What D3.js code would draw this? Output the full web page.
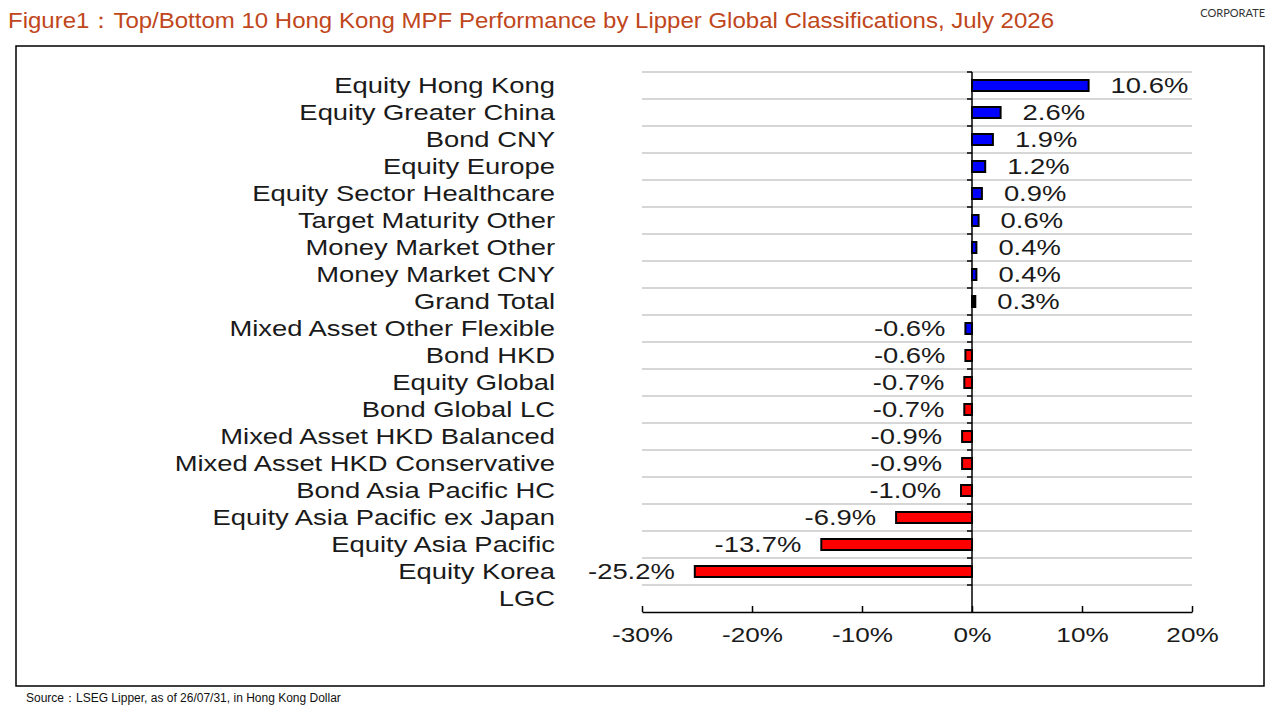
<!DOCTYPE html>
<html>
<head>
<meta charset="utf-8">
<script src="https://cdn.jsdelivr.net/npm/d3@7"></script>
<style>
  body { margin: 0; background: #fff; }
  svg { display: block; font-family: "Liberation Sans", Arial, sans-serif; }
</style>
</head>
<body>
<script>
// categories, top to bottom
var categories = [
  'Equity Hong Kong', 'Equity Greater China', 'Bond CNY', 'Equity Europe',
  'Equity Sector Healthcare', 'Target Maturity Other', 'Money Market Other',
  'Money Market CNY', 'Grand Total', 'Mixed Asset Other Flexible', 'Bond HKD',
  'Equity Global', 'Bond Global LC', 'Mixed Asset HKD Balanced',
  'Mixed Asset HKD Conservative', 'Bond Asia Pacific HC',
  'Equity Asia Pacific ex Japan', 'Equity Asia Pacific', 'Equity Korea', 'LGC'
]
// returns in %, null = no bar
var values = [10.6, 2.6, 1.9, 1.2, 0.9, 0.6, 0.4, 0.4, 0.3, -0.6, -0.6,
  -0.7, -0.7, -0.9, -0.9, -1.0, -6.9, -13.7, -25.2, null]
// which group each bar belongs to
var groups = ['top', 'top', 'top', 'top', 'top', 'top', 'top', 'top', 'total',
  'top', 'bottom', 'bottom', 'bottom', 'bottom', 'bottom', 'bottom', 'bottom',
  'bottom', 'bottom', null]
var xTicks = [-30, -20, -10, 0, 10, 20]

var colors = { top: '#0000ff', bottom: '#ff0000', total: '#000000' }
var stretch = 1.245 // the text in the picture is a bit wide

var svg = d3.select('body').append('svg')
  .attr('width', 1280)
  .attr('height', 720)

// title and header
svg.append('text')
  .attr('x', 8).attr('y', 28)
  .attr('font-size', 22)
  .attr('fill', '#c0461c')
  .attr('textLength', 1046)
  .attr('lengthAdjust', 'spacingAndGlyphs')
  .text('Figure1\uff1aTop/Bottom 10 Hong Kong MPF Performance by Lipper Global Classifications, July 2026')

svg.append('text')
  .attr('x', 1265).attr('y', 17)
  .attr('text-anchor', 'end')
  .attr('font-family', 'Lato, "Open Sans", sans-serif')
  .attr('font-size', 11)
  .attr('fill', '#333')
  .text('CORPORATE')

// chart frame
svg.append('rect')
  .attr('x', 16).attr('y', 46)
  .attr('width', 1248).attr('height', 640)
  .attr('fill', 'none')
  .attr('stroke', '#000')
  .attr('stroke-width', 1.5)

svg.append('text')
  .attr('x', 26).attr('y', 702)
  .attr('font-size', 12)
  .attr('fill', '#111')
  .text('Source\uff1aLSEG Lipper, as of 26/07/31, in Hong Kong Dollar')

var x = d3.scaleLinear().domain([-30, 20]).range([642, 1192])
var y = d3.scaleBand().domain(categories).range([72, 612]).padding(0)
var barH = 11

// place text with a horizontal stretch
function label (sel, px, py) {
  return sel.attr('transform', function (d, i) {
    return 'translate(' + px(d, i) + ',' + py(d, i) + ') scale(' + stretch + ',1)'
  })
}

// gridlines at the top of each band
svg.append('g').selectAll('line')
  .data(categories)
  .enter().append('line')
  .attr('x1', x(-30)).attr('x2', x(20))
  .attr('y1', function (d) { return y(d) })
  .attr('y2', function (d) { return y(d) })
  .attr('stroke', '#c8c8c8')
  .attr('stroke-width', 1.5)

// bars
var rows = categories.map(function (c, i) {
  return { cat: c, v: values[i], g: groups[i] }
}).filter(function (d) { return d.v !== null })

svg.append('g').selectAll('rect')
  .data(rows)
  .enter().append('rect')
  .attr('x', function (d) { return x(Math.min(0, d.v)) })
  .attr('width', function (d) { return Math.abs(x(d.v) - x(0)) })
  .attr('y', function (d) { return y(d.cat) + y.bandwidth() / 2 - barH / 2 })
  .attr('height', barH)
  .attr('fill', function (d) { return colors[d.g] })
  .attr('stroke', '#000')
  .attr('stroke-width', 2)

// value labels
label(svg.append('g').selectAll('text')
  .data(rows)
  .enter().append('text')
  .attr('font-size', 22)
  .attr('fill', '#1a1a1a')
  .attr('dy', '0.35em')
  .attr('text-anchor', function (d) { return d.v < 0 ? 'end' : 'start' })
  .text(function (d) { return d.v.toFixed(1) + '%' }),
function (d) { return d.v < 0 ? x(d.v) - 20 : x(d.v) + 22 },
function (d) { return y(d.cat) + y.bandwidth() / 2 })

// category labels
label(svg.append('g').selectAll('text')
  .data(categories)
  .enter().append('text')
  .attr('font-size', 22)
  .attr('fill', '#1a1a1a')
  .attr('dy', '0.35em')
  .attr('text-anchor', 'end')
  .text(function (d) { return d }),
function () { return 555 },
function (d) { return y(d) + y.bandwidth() / 2 })

// vertical zero axis with small ticks on the left
svg.append('line')
  .attr('x1', x(0)).attr('x2', x(0))
  .attr('y1', y.range()[0]).attr('y2', y.range()[1])
  .attr('stroke', '#000')
  .attr('stroke-width', 1.5)

svg.append('g').selectAll('line')
  .data(categories)
  .enter().append('line')
  .attr('x1', x(0) - 5).attr('x2', x(0))
  .attr('y1', function (d) { return y(d) })
  .attr('y2', function (d) { return y(d) })
  .attr('stroke', '#000')
  .attr('stroke-width', 1.5)

// x axis
var xAxis = svg.append('g')
  .attr('transform', 'translate(0,' + y.range()[1] + ')')
  .call(d3.axisBottom(x).tickValues(xTicks).tickSize(6).tickSizeOuter(0)
    .tickFormat(function (d) { return d + '%' }))

xAxis.select('.domain').attr('stroke', '#000').attr('stroke-width', 1.5)
xAxis.selectAll('.tick line').attr('stroke', '#000').attr('stroke-width', 1.5)
  .attr('transform', 'translate(0,-6)')
xAxis.selectAll('.tick text')
  .attr('font-size', 21)
  .attr('font-family', '"Liberation Sans", Arial, sans-serif')
  .attr('fill', '#1a1a1a')
  .attr('y', 23)
  .attr('dy', '0.35em')
  .attr('transform', 'scale(' + stretch + ',1)')
  .attr('x', 0)
</script>
</body>
</html>
